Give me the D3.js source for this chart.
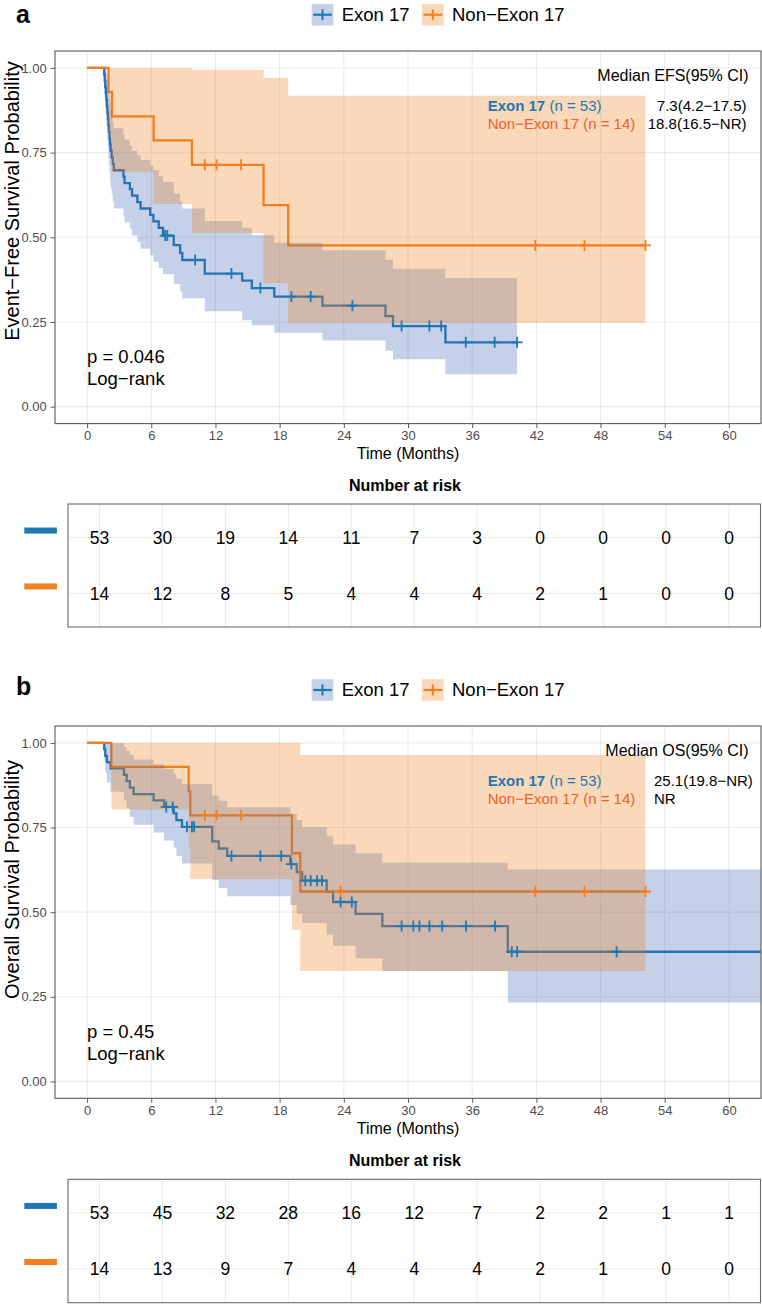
<!DOCTYPE html>
<html><head><meta charset="utf-8">
<script src="https://cdn.jsdelivr.net/npm/d3@7"></script>
<style>
body{margin:0;background:#fff;}
svg{display:block;font-family:"Liberation Sans",Arial,Helvetica,sans-serif;}
</style>
</head><body>
<svg id="chart" width="762" height="1304"></svg>
<script>
// ---------- shared ticks / labels ----------
const timeTicks = [0, 6, 12, 18, 24, 30, 36, 42, 48, 54, 60];
const survTicks = [0, 0.25, 0.5, 0.75, 1];
const groups = ["Exon 17", "Non\u2212Exon 17"];
const groupCounts = [53, 14];

// ---------- Panel a: Event-free survival ----------
const efsExonTime  = [0,1.6,1.65,1.7,1.75,1.8,1.85,1.9,1.95,2.0,2.05,2.1,2.15,2.2,2.3,2.4,2.5,3.4,3.5,4.0,4.2,4.7,5.0,5.9,6.2,6.7,7.1,8.1,8.7,8.9,11.0,14.5,15.4,17.5,22.0,27.9,28.6,33.5];
const efsExonSurv  = [1,.981,.962,.943,.925,.906,.887,.868,.849,.830,.811,.792,.774,.755,.736,.717,.698,.679,.660,.642,.623,.604,.585,.566,.547,.528,.505,.477,.454,.433,.393,.372,.350,.325,.298,.267,.238,.190];
const efsExonLower = [1,.945,.912,.883,.856,.830,.806,.781,.758,.735,.712,.690,.669,.647,.626,.605,.585,.564,.544,.525,.505,.486,.466,.447,.428,.409,.391,.362,.340,.320,.282,.255,.240,.218,.195,.165,.140,.096];
const efsExonUpper = [1,1,1,1,.999,.988,.977,.964,.951,.937,.923,.909,.895,.875,.855,.838,.822,.805,.789,.771,.755,.742,.728,.712,.699,.681,.663,.629,.606,.585,.548,.528,.507,.484,.462,.434,.407,.380];
const efsExonEnd = 40.2;
const efsExonCensor = [7.3,7.5,10.1,13.5,16.2,19.1,20.9,24.8,29.4,32.0,33.1,35.4,38.1,40.2];

const efsNonTime  = [0,2.0,2.33,6.22,9.8,16.5,18.8];
const efsNonSurv  = [1,.929,.857,.786,.714,.595,.476];
const efsNonLower = [1,.803,.692,.598,.513,.365,.247];
const efsNonUpper = [1,1,1,1,.995,.970,.918];
const efsNonEnd = 52.2;
const efsNonCensor = [11.0,12.1,14.4,41.9,46.5,52.2];

const efsRiskExon = [53,30,19,14,11,7,3,0,0,0,0];
const efsRiskNon  = [14,12,8,5,4,4,4,2,1,0,0];
const efsMedians  = ["7.3(4.2\u221217.5)", "18.8(16.5\u2212NR)"];

// ---------- Panel b: Overall survival ----------
const osExonTime  = [0,1.6,1.7,1.85,2.2,3.45,3.7,4.0,4.35,6.22,7.2,8.1,8.35,8.87,11.7,12.3,13.1,19.0,19.6,20.1,22.4,23.0,25.1,27.6,39.33];
const osExonSurv  = [1,.981,.962,.943,.925,.906,.887,.868,.849,.830,.811,.792,.772,.752,.709,.688,.666,.642,.618,.593,.560,.530,.495,.459,.383];
const osExonLower = [1,.945,.912,.883,.856,.830,.806,.781,.758,.735,.712,.690,.666,.644,.595,.571,.547,.521,.495,.468,.433,.401,.363,.326,.233];
const osExonUpper = [1,1,1,1,.999,.988,.977,.964,.951,.937,.923,.910,.894,.879,.845,.829,.810,.791,.772,.751,.724,.700,.674,.646,.626];
const osExonEnd = 66;
const osExonCensor = [7.4,8.0,9.34,9.8,10.0,13.5,16.2,18.15,19.1,20.4,20.9,21.5,21.95,23.7,24.75,29.4,30.5,31.07,32.0,33.2,35.43,38.14,39.7,40.2,49.5];

const osNonTime  = [0,2.27,9.5,9.65,19.15,19.93];
const osNonSurv  = [1,.929,.857,.786,.674,.561];
const osNonLower = [1,.803,.692,.598,.448,.326];
const osNonUpper = [1,1,1,1,1,.964];
const osNonEnd = 52.2;
const osNonCensor = [11.0,12.1,14.4,23.7,41.9,46.5,52.2];

const osRiskExon = [53,45,32,28,16,12,7,2,2,1,1];
const osRiskNon  = [14,13,9,7,4,4,4,2,1,0,0];
const osMedians  = ["25.1(19.8\u2212NR)", "NR"];

// ---------- styling ----------
const lineColors = ["#1F77B4", "#F47E20"];
const fillColors = ["#3E66B2", "#EB8019"];
const textColors = ["#1F77B4", "#F0602A"];
const fillOpacity = 0.3;

const svg = d3.select("#chart");

function makeCurve(time, surv, lower, upper, end, censor) {
  const pts = time.map((t, i) => ({t, s: surv[i], lo: lower[i], up: upper[i]}));
  const last = pts[pts.length - 1];
  pts.push({t: end, s: last.s, lo: last.lo, up: last.up});
  const survAt = t => { let s = surv[0]; time.forEach((tt, i) => { if (tt <= t) s = surv[i]; }); return s; };
  const cens = censor.map(t => ({t, s: survAt(t)}));
  return {pts, cens};
}

function drawPanel(p) {
  const x = d3.scaleLinear().domain([-3, 63]).range([55, 761]);
  const y = d3.scaleLinear().domain([-0.05, 1.05]).range([p.plotBottom, p.plotTop]);
  const g = svg.append("g");

  // panel letter
  g.append("text").attr("x", 16).attr("y", p.letterY).text(p.letter)
    .attr("font-size", 25).attr("font-weight", "bold").attr("fill", "#000");

  // legend
  const legX = [311.7, 422];
  groups.forEach((name, i) => {
    const lg = g.append("g").attr("transform", `translate(${legX[i]},${p.legendY})`);
    lg.append("rect").attr("x", 0).attr("y", -10.8).attr("width", 21.6).attr("height", 21.6)
      .attr("fill", fillColors[i]).attr("fill-opacity", fillOpacity);
    lg.append("line").attr("x1", 1.5).attr("x2", 20.1).attr("y1", 0).attr("y2", 0)
      .attr("stroke", lineColors[i]).attr("stroke-width", 2.2);
    lg.append("line").attr("x1", 10.8).attr("x2", 10.8).attr("y1", -5.5).attr("y2", 5.5)
      .attr("stroke", lineColors[i]).attr("stroke-width", 2);
    lg.append("text").attr("x", 30).attr("y", 0).attr("dy", "0.35em").text(name)
      .attr("font-size", 18.5).attr("fill", "#000");
  });

  // gridlines
  const grid = g.append("g").attr("stroke", "#EBEBEB").attr("stroke-width", 1.1);
  grid.selectAll("line.v").data(timeTicks).join("line").attr("class", "v")
    .attr("x1", d => x(d)).attr("x2", d => x(d)).attr("y1", p.plotTop).attr("y2", p.plotBottom);
  grid.selectAll("line.h").data(survTicks).join("line").attr("class", "h")
    .attr("y1", d => y(d)).attr("y2", d => y(d)).attr("x1", 55).attr("x2", 761);

  const clipId = "clip" + p.letter;
  svg.append("clipPath").attr("id", clipId).append("rect")
    .attr("x", 55).attr("y", p.plotTop).attr("width", 706).attr("height", p.plotBottom - p.plotTop);
  const plot = g.append("g").attr("clip-path", `url(#${clipId})`);

  const line = d3.line().curve(d3.curveStepAfter).x(d => x(d.t)).y(d => y(d.s));
  const area = d3.area().curve(d3.curveStepAfter).x(d => x(d.t)).y0(d => y(d.lo)).y1(d => y(d.up));

  p.curves.forEach((c, i) => {
    plot.append("path").attr("d", line(c.pts)).attr("fill", "none")
      .attr("stroke", lineColors[i]).attr("stroke-width", 2.3);
  });
  p.curves.forEach((c, i) => {
    plot.append("path").attr("d", area(c.pts)).attr("fill", fillColors[i]).attr("fill-opacity", fillOpacity);
  });
  p.curves.forEach((c, i) => {
    plot.append("g").selectAll("path").data(c.cens).join("path")
      .attr("transform", d => `translate(${x(d.t)},${y(d.s)})`)
      .attr("d", "M-5.5,0H5.5M0,-5.5V5.5").attr("stroke", lineColors[i]).attr("stroke-width", 1.8);
  });

  // border
  g.append("rect").attr("x", 55).attr("y", p.plotTop).attr("width", 706).attr("height", p.plotBottom - p.plotTop)
    .attr("fill", "none").attr("stroke", "#5A5A5A").attr("stroke-width", 1.1);

  // axes
  const ay = g.append("g").attr("transform", "translate(55,0)")
    .call(d3.axisLeft(y).tickValues(survTicks).tickFormat(d3.format(".2f")).tickSize(4.5).tickPadding(3.8));
  const ax = g.append("g").attr("transform", `translate(0,${p.plotBottom})`)
    .call(d3.axisBottom(x).tickValues(timeTicks).tickSize(4.5).tickPadding(3));
  [ax, ay].forEach(a => {
    a.select(".domain").remove();
    a.selectAll(".tick line").attr("stroke", "#5A5A5A");
    a.selectAll(".tick text").attr("fill", "#4D4D4D").attr("font-size", 13)
      .attr("font-family", "'Liberation Sans',Arial,sans-serif");
  });

  // axis titles
  g.append("text").attr("transform", `translate(18.5,${p.yTitleCenter}) rotate(-90)`)
    .attr("text-anchor", "middle").text(p.yTitle).attr("font-size", 20).attr("fill", "#000");
  g.append("text").attr("x", 408).attr("y", p.plotBottom + 30).attr("dy", "0.35em")
    .attr("text-anchor", "middle").text("Time (Months)").attr("font-size", 16).attr("fill", "#000");

  // p-value
  g.append("text").attr("x", 87).attr("y", p.plotTop + 305.7).attr("dy", "0.35em")
    .text(p.pText).attr("font-size", 18.5).attr("fill", "#000");
  g.append("text").attr("x", 87).attr("y", p.plotTop + 328).attr("dy", "0.35em")
    .text("Log\u2212rank").attr("font-size", 18.5).attr("fill", "#000");

  // median table
  g.append("text").attr("x", 748.5).attr("y", p.plotTop + 24).attr("dy", "0.35em")
    .attr("text-anchor", "end").text(p.medianHeader).attr("font-size", 16).attr("fill", "#000");
  groups.forEach((name, i) => {
    const ty = p.plotTop + 55 + i * 18;
    const t = g.append("text").attr("x", 487.7).attr("y", ty).attr("dy", "0.35em")
      .attr("font-size", 15).attr("fill", textColors[i]);
    t.append("tspan").text(name).attr("font-weight", i === 0 ? "bold" : "normal");
    t.append("tspan").text(` (n = ${groupCounts[i]})`);
    g.append("text").attr("x", p.valueX).attr("y", ty).attr("dy", "0.35em")
      .attr("text-anchor", p.valueAnchor).text(p.medians[i]).attr("font-size", 15).attr("fill", "#000");
  });

  // risk table
  g.append("text").attr("x", 405).attr("y", p.plotBottom + 62).attr("dy", "0.35em")
    .attr("text-anchor", "middle").text("Number at risk").attr("font-size", 16)
    .attr("font-weight", "bold").attr("fill", "#000");
  const rx = d3.scaleLinear().domain([-3, 63]).range([68, 760.5]);
  const ry = d3.scalePoint().domain(groups).range([p.tableTop, p.tableBottom]).padding(0.6);
  const tg = g.append("g");
  tg.selectAll("line.v").data(timeTicks).join("line").attr("class", "v")
    .attr("x1", d => rx(d)).attr("x2", d => rx(d)).attr("y1", p.tableTop).attr("y2", p.tableBottom)
    .attr("stroke", "#EBEBEB").attr("stroke-width", 1.1);
  tg.selectAll("line.h").data(groups).join("line").attr("class", "h")
    .attr("x1", 68).attr("x2", 760.5).attr("y1", d => ry(d)).attr("y2", d => ry(d))
    .attr("stroke", "#EBEBEB").attr("stroke-width", 1.1);
  p.risk.forEach((row, i) => {
    tg.append("g").selectAll("text").data(row).join("text")
      .attr("x", (d, j) => rx(timeTicks[j])).attr("y", ry(groups[i])).attr("dy", "0.35em")
      .attr("text-anchor", "middle").text(d => d).attr("font-size", 17.5).attr("fill", "#000");
    g.append("rect").attr("x", 24.3).attr("y", ry(groups[i]) - 7 - 3).attr("width", 32.6).attr("height", 6)
      .attr("fill", lineColors[i]);
  });
  tg.append("rect").attr("x", 68).attr("y", p.tableTop).attr("width", 692.5).attr("height", p.tableBottom - p.tableTop)
    .attr("fill", "none").attr("stroke", "#6A6A6A").attr("stroke-width", 1.1);
}

drawPanel({
  letter: "a", letterY: 23, legendY: 14.7,
  plotTop: 51, plotBottom: 423.6,
  yTitle: "Event\u2212Free Survival Probability", yTitleCenter: 201,
  pText: "p = 0.046",
  medianHeader: "Median EFS(95% CI)", medians: efsMedians, valueX: 746.5, valueAnchor: "end",
  curves: [
    makeCurve(efsExonTime, efsExonSurv, efsExonLower, efsExonUpper, efsExonEnd, efsExonCensor),
    makeCurve(efsNonTime, efsNonSurv, efsNonLower, efsNonUpper, efsNonEnd, efsNonCensor)
  ],
  risk: [efsRiskExon, efsRiskNon],
  tableTop: 504, tableBottom: 627
});

drawPanel({
  letter: "b", letterY: 695, legendY: 690,
  plotTop: 726, plotBottom: 1098.3,
  yTitle: "Overall Survival Probability", yTitleCenter: 879.5,
  pText: "p = 0.45",
  medianHeader: "Median OS(95% CI)", medians: osMedians, valueX: 654, valueAnchor: "start",
  curves: [
    makeCurve(osExonTime, osExonSurv, osExonLower, osExonUpper, osExonEnd, osExonCensor),
    makeCurve(osNonTime, osNonSurv, osNonLower, osNonUpper, osNonEnd, osNonCensor)
  ],
  risk: [osRiskExon, osRiskNon],
  tableTop: 1179.3, tableBottom: 1302.7
});
</script>
</body></html>
